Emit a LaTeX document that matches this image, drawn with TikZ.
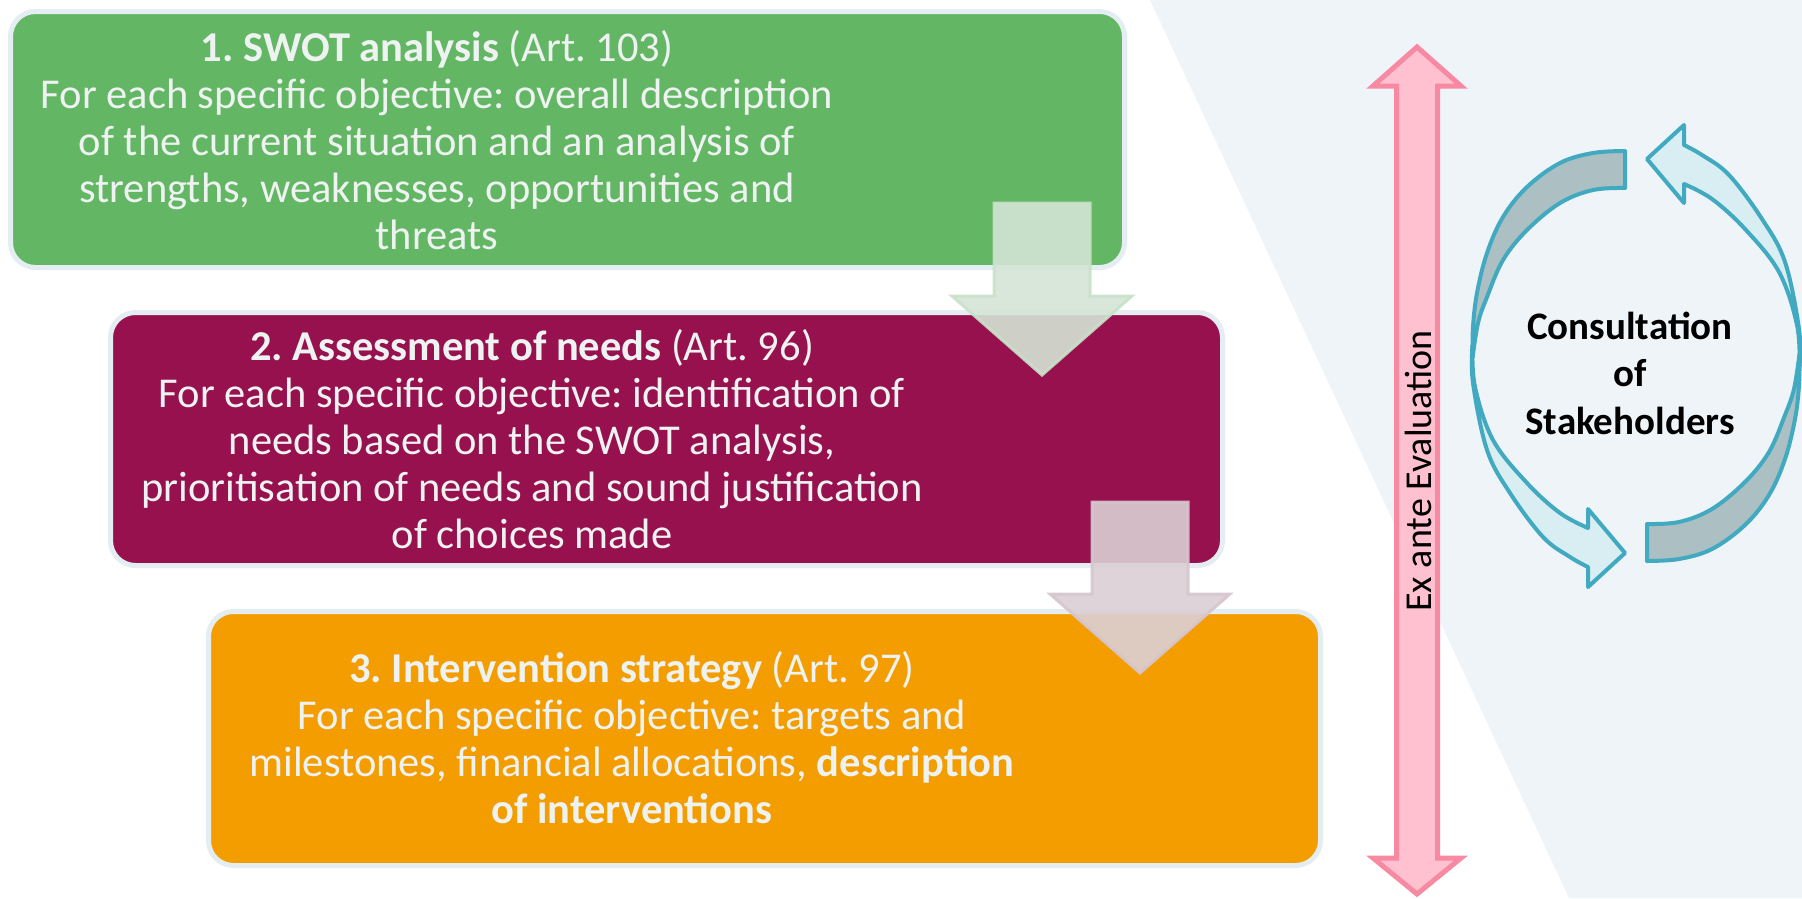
\documentclass[tikz,border=0pt]{standalone}
\usepackage{fontspec}
\setmainfont{Carlito}
\frenchspacing
\definecolor{bgpanel}{RGB}{238,244,247}
\definecolor{boxline}{RGB}{228,237,242}
\definecolor{swotgreen}{RGB}{99,182,100}
\definecolor{needpurple}{RGB}{151,17,79}
\definecolor{stratorange}{RGB}{243,157,0}
\definecolor{boxtext}{RGB}{238,243,242}
\definecolor{arrowAfill}{RGB}{212,229,214}
\definecolor{arrowAline}{RGB}{200,226,201}
\definecolor{arrowBfill}{RGB}{219,207,213}
\definecolor{arrowBline}{RGB}{214,198,206}
\definecolor{pinkfill}{RGB}{255,193,208}
\definecolor{pinkline}{RGB}{247,137,162}
\definecolor{cycleline}{RGB}{65,170,192}
\definecolor{cyclegray}{RGB}{172,192,196}
\definecolor{cyclelight}{RGB}{216,238,242}
\tikzset{
  stagebox/.style={rectangle, rounded corners=25pt, draw=boxline, line width=5pt, inner sep=0pt, outer sep=0pt},
  stagetext/.style={text=boxtext, align=center, inner sep=0pt, font=\fontsize{42.5}{47}\selectfont},
  flowarrowA/.style={fill=arrowAfill, draw=arrowAline, line width=3pt, fill opacity=0.9, draw opacity=0.9, line join=miter},
  flowarrowB/.style={fill=arrowBfill, draw=arrowBline, line width=3pt, fill opacity=0.9, draw opacity=0.9, line join=miter},
  evalarrow/.style={fill=pinkfill, draw=pinkline, line width=5pt, line join=miter},
  cyclegrayshape/.style={fill=cyclegray, draw=cycleline, line width=4pt, line join=round},
  cyclelightshape/.style={fill=cyclelight, draw=cycleline, line width=4pt, line join=round},
  cycletext/.style={align=center, inner sep=0pt, text=black, font=\bfseries\fontsize{39}{47.5}\selectfont},
  evaltext/.style={inner sep=0pt, text=black, font=\fontsize{38}{46}\selectfont}
}
\begin{document}
\begin{tikzpicture}[x=1pt, y=-1pt]
\useasboundingbox (0,0) rectangle (1802,898);
\fill[white] (0,0) rectangle (1802,898);
\fill[bgpanel] (1150,0) -- (1569,898) -- (1802,898) -- (1802,0) -- cycle;

% stage boxes
\node[stagebox, fill=swotgreen, minimum width=1114pt, minimum height=256pt] (swot) at (567.5,139.5) {};
\node[stagebox, fill=needpurple, minimum width=1112pt, minimum height=253pt] (needs) at (666.5,439) {};
\node[stagebox, fill=stratorange, minimum width=1112pt, minimum height=254pt] (strat) at (764.5,738.5) {};

\node[stagetext] (swottxt) at (437,140) {\textbf{1. SWOT analysis} (Art. 103)\\For each specific objective: overall description\\of the current situation and an analysis of\\strengths, weaknesses, opportunities and\\threats};
\node[stagetext] (needstxt) at (532,439) {\textbf{2. Assessment of needs} (Art. 96)\\For each specific objective: identification of\\needs based on the SWOT analysis,\\prioritisation of needs and sound justification\\of choices made};
\node[stagetext] (strattxt) at (632,738) {\textbf{3. Intervention strategy} (Art. 97)\\For each specific objective: targets and\\milestones, financial allocations, \textbf{description}\\\textbf{of interventions}};

% block arrows between stages
\path[flowarrowA] (994,203) -- (1090,203) -- (1090,296) -- (1132,296) -- (1042,375) -- (952,296) -- (994,296) -- cycle;
\path[flowarrowB] (1092,502) -- (1188,502) -- (1188,594) -- (1230,594) -- (1140,673) -- (1050,594) -- (1092,594) -- cycle;

% ex ante evaluation double arrow
\path[evalarrow] (1417,47) -- (1461,86) -- (1437.5,86) -- (1437.5,858) -- (1461,858) -- (1417,894) -- (1373,858) -- (1396.5,858) -- (1396.5,86) -- (1373,86) -- cycle;
\node[evaltext, rotate=90] (evaltxt) at (1418,471) {Ex ante Evaluation};

% consultation cycle
\begin{scope}[shift={(1636,356)}]
  \foreach \ang in {0,180}{
  \begin{scope}[rotate=\ang]
    \path[cyclegrayshape]
      plot[smooth, tension=0.6] coordinates {(-11,-205) (-43,-203) (-76,-193) (-109,-169) (-133,-139) (-149,-103) (-159,-63) (-163,-29) (-163.5,2)}
      -- plot[smooth, tension=0.6] coordinates {(-163.5,2) (-158,-33) (-149,-59) (-133,-96) (-109,-126) (-76,-153) (-43,-166) (-11,-168)}
      -- cycle;
    \path[cyclelightshape]
      plot[smooth, tension=0.6] coordinates {(-163.5,-10) (-163,27) (-149,94) (-126,137) (-93,181) (-66,201) (-48,211)}
      -- (-48,231) -- (-11,197) -- (-48,153)
      -- plot[smooth, tension=0.6] coordinates {(-48,172) (-76,157) (-109,127) (-143,84) (-161,31) (-163.5,-10)}
      -- cycle;
  \end{scope}}
\end{scope}
\node[cycletext] (consult) at (1630,373) {Consultation\\of\\Stakeholders};
\end{tikzpicture}
\end{document}
